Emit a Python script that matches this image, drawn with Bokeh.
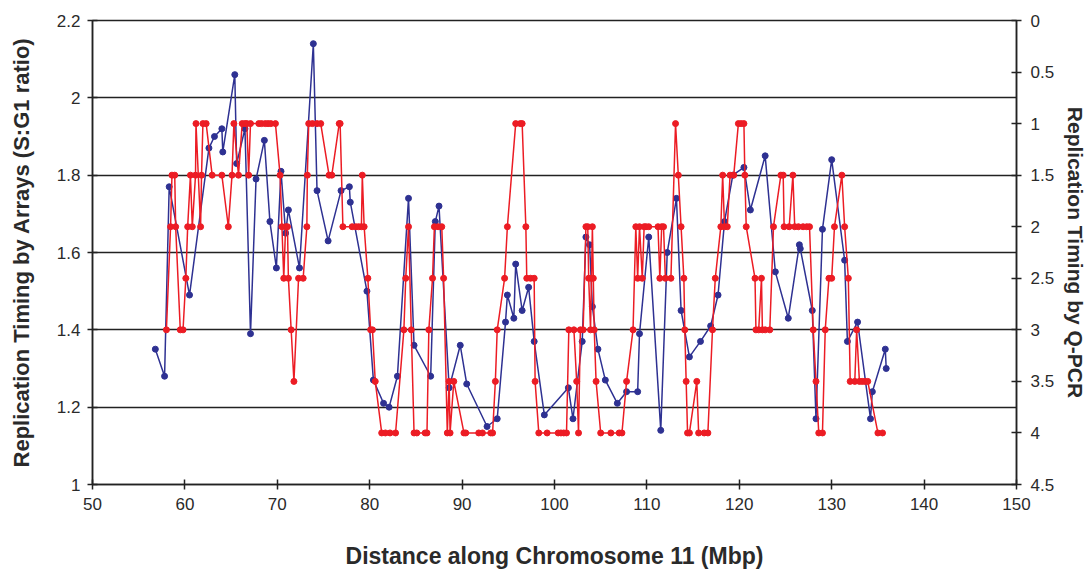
from bokeh.plotting import figure
from bokeh.models import Range1d, LinearAxis, NumeralTickFormatter, FixedTicker
from bokeh.embed import file_html
from bokeh.resources import INLINE

# ---- data ----
x_ticks = [50, 60, 70, 80, 90, 100, 110, 120, 130, 140, 150]
left_ticks = [1.0, 1.2, 1.4, 1.6, 1.8, 2.0, 2.2]
right_ticks = [0, 0.5, 1, 1.5, 2, 2.5, 3, 3.5, 4, 4.5]

array_mbp = [56.8, 57.8, 58.3, 60.5, 62.6, 63.2, 64.0, 64.1, 65.4, 65.6,
             66.5, 67.1, 67.7, 68.6, 69.2, 69.9, 70.4, 70.9, 71.2, 72.4,
             73.9, 74.3, 75.5, 76.9, 77.8, 77.9, 79.7, 80.4, 81.5, 82.1,
             83.0, 84.2, 84.8, 86.6, 87.1, 87.5, 88.6, 89.8, 90.5, 92.7,
             93.8, 94.7, 94.9, 95.6, 95.8, 96.5, 97.2, 97.8, 98.9, 101.5,
             102.0, 103.0, 103.4, 103.8, 104.1, 104.7, 105.5, 106.8, 107.8, 109.0,
             109.2, 110.2, 111.5, 112.2, 113.2, 113.7, 114.6, 115.8, 116.9, 117.7,
             118.4, 119.3, 120.5, 121.2, 122.8, 123.9, 125.3, 126.5, 126.6, 127.9,
             128.3, 129.0, 130.0, 131.4, 131.7, 132.8, 134.2, 134.4, 135.8, 135.9]
array_ratio = [1.35, 1.28, 1.77, 1.49, 1.87, 1.90, 1.92, 1.86, 2.06, 1.83,
               1.92, 1.39, 1.79, 1.89, 1.68, 1.56, 1.81, 1.65, 1.71, 1.56,
               2.14, 1.76, 1.63, 1.76, 1.77, 1.73, 1.50, 1.27, 1.21, 1.20,
               1.28, 1.74, 1.36, 1.28, 1.68, 1.72, 1.25, 1.36, 1.26, 1.15,
               1.17, 1.42, 1.49, 1.43, 1.57, 1.45, 1.51, 1.37, 1.18, 1.25,
               1.17, 1.37, 1.64, 1.62, 1.46, 1.35, 1.27, 1.21, 1.24, 1.24,
               1.39, 1.64, 1.14, 1.60, 1.74, 1.45, 1.33, 1.37, 1.41, 1.49,
               1.68, 1.80, 1.82, 1.71, 1.85, 1.55, 1.43, 1.62, 1.61, 1.45,
               1.17, 1.66, 1.84, 1.58, 1.37, 1.42, 1.17, 1.24, 1.35, 1.30]

qpcr_mbp = [58.0, 58.45, 58.6, 58.9, 59.0, 59.5, 59.8, 60.1, 60.3, 60.6,
            60.8, 61.15, 61.2, 61.7, 61.8, 61.95, 62.3, 62.95, 64.0, 64.7,
            65.1, 65.3, 65.8, 66.2, 66.5, 66.7, 66.9, 67.1, 68.0, 68.3,
            68.7, 69.0, 69.3, 69.8, 70.3, 70.5, 70.7, 70.9, 71.1, 71.2,
            71.5, 71.8, 72.3, 72.8, 73.2, 73.25, 73.4, 73.8, 74.3, 74.7,
            75.6, 75.9, 76.7, 76.8, 77.1, 78.1, 78.5, 78.8, 79.1, 79.2,
            79.4, 79.8, 80.1, 80.3, 80.6, 81.3, 81.7, 82.2, 82.8, 83.7,
            83.9, 84.2, 84.5, 84.8, 85.1, 86.0, 86.2, 86.4, 86.8, 87.0,
            87.4, 87.8, 88.0, 88.4, 88.6, 88.7, 89.1, 90.2, 90.4, 91.8,
            92.2, 93.1, 93.3, 93.6, 93.8, 94.6, 94.9, 95.8, 96.3, 96.5,
            96.9, 97.0, 97.4, 97.8, 97.9, 98.3, 99.2, 100.4, 100.7, 101.0,
            101.3, 101.55, 102.1, 102.4, 102.6, 102.8, 103.1, 103.4, 103.6, 103.7,
            103.9, 104.0, 104.1, 104.2, 104.3, 104.5, 105.0, 106.1, 107.0, 107.3,
            107.8, 108.5, 108.8, 109.0, 109.2, 109.5, 109.7, 109.9, 110.2, 111.2,
            111.4, 111.6, 111.8, 112.0, 112.6, 113.1, 113.4, 113.7, 114.0, 114.1,
            114.25, 114.4, 114.6, 115.4, 115.6, 116.2, 116.6, 117.1, 117.4, 118.0,
            118.2, 118.4, 118.7, 119.0, 119.4, 119.9, 120.2, 120.5, 120.6, 120.75,
            121.7, 121.8, 122.1, 122.4, 122.5, 122.8, 123.3, 123.7, 124.5, 124.75,
            124.85, 125.4, 125.8, 126.0, 126.4, 126.9, 127.3, 127.6, 128.0, 128.3,
            128.6, 129.0, 129.3, 129.7, 130.0, 130.3, 131.1, 131.4, 131.8, 132.0,
            132.5, 132.7, 133.0, 133.3, 133.6, 133.9, 135.0, 135.5]
qpcr_timing = [3, 2, 1.5, 1.5, 2, 3, 3, 2.5, 2, 1.5,
               2, 1.5, 1, 2, 1.5, 1, 1, 1.5, 1.5, 2,
               1.5, 1, 1.5, 1, 1, 1, 1.5, 1, 1, 1,
               1, 1, 1, 1, 1.5, 2, 2.5, 2, 2, 2.5,
               3, 3.5, 2.5, 2.5, 2, 1.5, 1, 1, 1, 1,
               1.5, 1.5, 1, 1, 2, 2, 2, 2, 2, 1.5,
               2, 2.5, 3, 3, 3.5, 4, 4, 4, 4, 3,
               2.5, 2, 3, 4, 4, 4, 4, 3, 2.5, 2,
               2, 2, 2.5, 4, 3.5, 4, 3.5, 4, 4, 4,
               4, 4, 4, 3.5, 3, 2.5, 2, 1, 1, 1,
               2, 2.5, 2.5, 2.5, 3.5, 4, 4, 4, 4, 4,
               4, 3, 3, 3.5, 4, 3, 3, 2, 2, 2.5,
               3, 2.5, 2, 2.5, 3, 3.5, 4, 4, 4, 4,
               3.5, 3, 2, 2.5, 2, 2.5, 2, 2, 2, 2,
               2.5, 2, 2, 2.5, 2.5, 1, 1.5, 2, 2.5, 3,
               3.5, 4, 4, 3.5, 4, 4, 4, 3, 2.5, 2,
               1.5, 2, 2, 1.5, 1.5, 1, 1, 1, 1.5, 2,
               2.5, 3, 3, 2.5, 3, 3, 3, 2, 1.5, 1.5,
               2, 2, 1.5, 2, 2, 2, 2, 2, 3, 3.5,
               4, 4, 3, 2.5, 2.5, 2, 1.5, 2, 2.5, 3.5,
               3.5, 3, 3.5, 3.5, 3.5, 3.5, 4, 4]

BLUE = "#2e3192"
RED = "#ec1c24"
AXIS = "#222222"
TEXT = "#2a2a2a"
FONT = "Liberation Sans"

p = figure(width=1091, height=571, x_range=Range1d(50, 150), y_range=Range1d(1, 2.2),
           output_backend="svg", toolbar_location=None,
           min_border_left=92, min_border_right=75, min_border_top=20, min_border_bottom=87)
p.background_fill_color = "white"
p.border_fill_color = "white"
p.outline_line_color = AXIS
p.outline_line_width = 1.5

p.extra_y_ranges = {"qpcr": Range1d(start=4.5, end=0)}

p.xgrid.visible = False
p.ygrid.ticker = FixedTicker(ticks=left_ticks)
p.ygrid.grid_line_color = AXIS
p.ygrid.grid_line_width = 1.6

def style_axis(ax):
    ax.axis_line_color = AXIS
    ax.axis_line_width = 1.5
    ax.major_tick_line_color = AXIS
    ax.major_tick_line_width = 1.5
    ax.major_tick_in = 5
    ax.major_tick_out = 5
    ax.minor_tick_line_color = None
    ax.major_label_text_font = FONT
    ax.major_label_text_font_size = "17px"
    ax.major_label_text_color = TEXT
    ax.axis_label_text_font = FONT
    ax.axis_label_text_font_style = "bold"
    ax.axis_label_text_color = TEXT
    ax.formatter = NumeralTickFormatter(format="0.[0]")

xa = p.xaxis[0]
style_axis(xa)
xa.ticker = FixedTicker(ticks=x_ticks)
xa.axis_label = "Distance along Chromosome 11 (Mbp)"
xa.axis_label_text_font_size = "23px"
xa.major_label_standoff = 8
xa.axis_label_standoff = 30

ya = p.yaxis[0]
style_axis(ya)
ya.ticker = FixedTicker(ticks=left_ticks)
ya.axis_label = "Replication Timing by Arrays (S:G1 ratio)"
ya.axis_label_text_font_size = "22px"
ya.major_label_standoff = 7
ya.axis_label_standoff = 20

ra = LinearAxis(y_range_name="qpcr")
style_axis(ra)
ra.ticker = FixedTicker(ticks=right_ticks)
ra.major_label_standoff = 9
ra.axis_label = "Replication Timing by Q-PCR"
ra.axis_label_text_font_size = "21px"
ra.axis_label_standoff = 7
p.add_layout(ra, "right")

p.line(array_mbp, array_ratio, line_color=BLUE, line_width=1.5)
p.scatter(array_mbp, array_ratio, size=6, fill_color=BLUE, line_color=BLUE)

p.line(qpcr_mbp, qpcr_timing, line_color=RED, line_width=1.5, y_range_name="qpcr")
p.scatter(qpcr_mbp, qpcr_timing, size=6, fill_color=RED, line_color=RED, y_range_name="qpcr")

open("out.html", "w").write(file_html(p, INLINE))
